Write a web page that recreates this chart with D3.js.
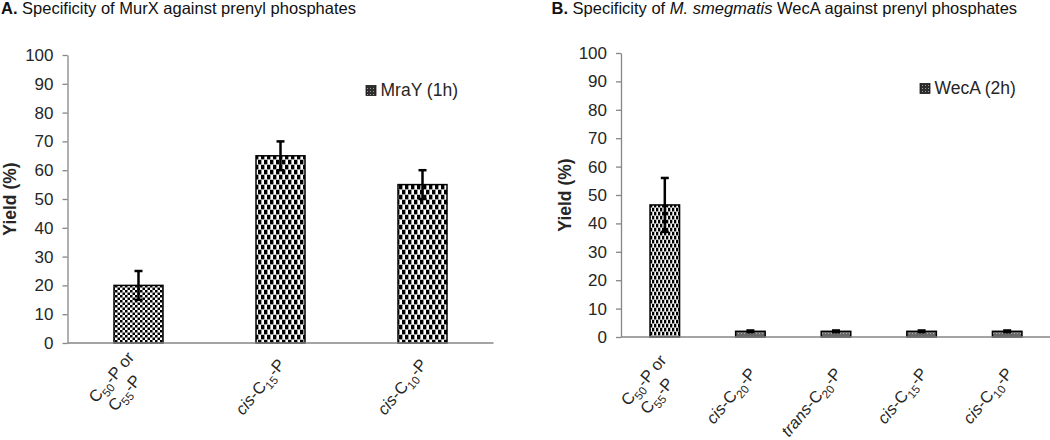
<!DOCTYPE html>
<html><head><meta charset="utf-8">
<script src="https://cdn.jsdelivr.net/npm/d3@7"></script>
<style>
body{margin:0;background:#fff}
svg{display:block}
text{font-family:"Liberation Sans",Arial,Helvetica,sans-serif}
</style>
</head><body>
<svg id="chart" width="1050" height="440"></svg>
<script>
// ---------- data ----------
// label segments: t = text, i = italic, s = subscript; one array per text line
const categoriesA = [
  [[{t:"C"},{t:"50",s:true},{t:"-P or"}],[{t:"C"},{t:"55",s:true},{t:"-P"}]],
  [[{t:"cis",i:true},{t:"-C"},{t:"15",s:true},{t:"-P"}]],
  [[{t:"cis",i:true},{t:"-C"},{t:"10",s:true},{t:"-P"}]]
];
const valuesA = [20, 65, 55];
const errorsA = [5, 5, 5];
const patternsA = ["checker", "brick", "brick"];

const categoriesB = [
  [[{t:"C"},{t:"50",s:true},{t:"-P or"}],[{t:"C"},{t:"55",s:true},{t:"-P"}]],
  [[{t:"cis",i:true},{t:"-C"},{t:"20",s:true},{t:"-P"}]],
  [[{t:"trans",i:true},{t:"-C"},{t:"20",s:true},{t:"-P"}]],
  [[{t:"cis",i:true},{t:"-C"},{t:"15",s:true},{t:"-P"}]],
  [[{t:"cis",i:true},{t:"-C"},{t:"10",s:true},{t:"-P"}]]
];
const valuesB = [46.5, 2, 2, 2, 2];
const errorsB = [9.5, 0.3, 0.3, 0.3, 0.3];
const patternsB = ["brickFine", "grayDots", "grayDots", "grayDots", "grayDots"];

const yTicks = [0, 10, 20, 30, 40, 50, 60, 70, 80, 90, 100];
const legendA = "MraY (1h)";
const legendB = "WecA (2h)";

// ---------- svg & patterns ----------
const svg = d3.select("#chart");
const defs = svg.append("defs");

function pat(id, w, h, bg, rects) {
  const p = defs.append("pattern").attr("id", id).attr("patternUnits", "userSpaceOnUse")
    .attr("width", w).attr("height", h);
  p.append("rect").attr("width", w).attr("height", h).attr("fill", bg);
  rects.forEach(r => p.append("rect").attr("x", r[0]).attr("y", r[1]).attr("width", r[2]).attr("height", r[3]).attr("fill", r[4]));
}
pat("checker", 5, 5, "#fff", [[0,0,2.5,2.5,"#000"],[2.5,2.5,2.5,2.5,"#000"]]);
pat("brick", 6, 10, "#fff", [
  [0,0,3.4,4.4,"#000"],[3,5,3,4.4,"#000"],[0,5,0.4,4.4,"#000"],
  [0,4.4,6,0.6,"#999"],[0,9.4,6,0.6,"#999"]]);
pat("brickFine", 4, 8, "#fff", [
  [0,0,2.3,3.5,"#000"],[2,4,2,3.5,"#000"],[0,4,0.3,3.5,"#000"],
  [0,3.5,4,0.5,"#999"],[0,7.5,4,0.5,"#999"]]);
pat("grayDots", 3, 3, "#6a6a6a", [[0,0,1,1,"#b0b0b0"]]);
pat("legendDots", 3, 3, "#2e2e2e", [[1,1,1,1,"#9a9a9a"]]);

const axisColor = "#868686";
const textColor = "#262626";
const labelAngle = -50;

function addSegments(textSel, segs, fontSize) {
  let sub = false;
  segs.forEach(sg => {
    const ts = textSel.append("tspan").text(sg.t);
    if (sg.i) ts.attr("font-style", "italic");
    if (sg.s) {
      ts.attr("font-size", fontSize * 0.7).attr("dy", fontSize * 0.28);
      sub = true;
    } else if (sub) {
      ts.attr("dy", -fontSize * 0.28);
      sub = false;
    }
  });
}

function drawPanel(cfg) {
  const g = svg.append("g");
  const x = d3.scaleBand().domain(d3.range(cfg.values.length))
    .range([cfg.x0, cfg.x1]).paddingInner(0.655).paddingOuter(0.3275);
  const y = d3.scaleLinear().domain([0, 100]).range([cfg.yBottom, cfg.yTop]);

  // title
  const t = g.append("text").attr("x", cfg.titleX).attr("y", 14)
    .attr("font-size", 16.5).attr("fill", "#111");
  t.append("tspan").attr("font-weight", "bold").text(cfg.letter);
  cfg.title.forEach(s => {
    const ts = t.append("tspan").text(s.t);
    if (s.i) ts.attr("font-style", "italic");
  });

  // y axis
  const ya = g.append("g").attr("transform", `translate(${cfg.axisX},0)`)
    .call(d3.axisLeft(y).tickValues(yTicks).tickSize(5).tickSizeOuter(0).tickPadding(9));
  ya.select(".domain").attr("stroke", axisColor).attr("stroke-width", 1.3);
  ya.selectAll(".tick line").attr("stroke", axisColor).attr("stroke-width", 1.3);
  ya.selectAll(".tick text").attr("font-size", 17).attr("fill", textColor)
    .attr("font-family", '"Liberation Sans",Arial,sans-serif');

  // y title
  g.append("text").attr("transform", `translate(${cfg.yTitleX},${(cfg.yTop + cfg.yBottom) / 2}) rotate(-90)`)
    .attr("text-anchor", "middle").attr("dy", "0.35em")
    .attr("font-size", 17.5).attr("font-weight", "bold").attr("fill", textColor).text("Yield (%)");

  // bars
  g.selectAll("rect.bar").data(cfg.values).join("rect").attr("class", "bar")
    .attr("x", (d, i) => x(i)).attr("width", x.bandwidth())
    .attr("y", d => y(d)).attr("height", d => y(0) - y(d))
    .attr("fill", (d, i) => `url(#${cfg.patterns[i]})`)
    .attr("stroke", "#000").attr("stroke-width", 1.5);

  // x axis line
  g.append("line").attr("x1", cfg.axisX).attr("x2", cfg.x1)
    .attr("y1", y(0)).attr("y2", y(0)).attr("stroke", axisColor).attr("stroke-width", 1.5);

  // error bars
  const cap = 4;
  cfg.values.forEach((v, i) => {
    const cx = x(i) + x.bandwidth() / 2;
    const e = cfg.errors[i];
    const eg = g.append("g").attr("stroke", "#000").attr("stroke-width", 2.5);
    eg.append("line").attr("x1", cx).attr("x2", cx).attr("y1", y(v + e)).attr("y2", y(v - e));
    eg.append("line").attr("x1", cx - cap).attr("x2", cx + cap).attr("y1", y(v + e)).attr("y2", y(v + e));
    eg.append("line").attr("x1", cx - cap).attr("x2", cx + cap).attr("y1", y(v - e)).attr("y2", y(v - e));
  });

  // x labels
  const fs = 16.5;
  cfg.categories.forEach((lines, i) => {
    const cx = x(i) + x.bandwidth() / 2;
    lines.forEach((segs, li) => {
      const off = lines.length === 1 ? cfg.single : cfg.multi[li];
      const tx = g.append("text")
        .attr("transform", `translate(${cx + off[0]},${y(0) + off[1]}) rotate(${labelAngle})`)
        .attr("text-anchor", "end").attr("dy", "0.35em")
        .attr("font-size", fs).attr("fill", textColor);
      addSegments(tx, segs, fs);
    });
  });

  // legend
  g.append("rect").attr("x", cfg.legX).attr("y", cfg.legY - 9.5).attr("width", 10).attr("height", 10)
    .attr("fill", "url(#legendDots)").attr("stroke", "#1a1a1a").attr("stroke-width", 0.8);
  g.append("text").attr("x", cfg.legX + 14.5).attr("y", cfg.legY + 1)
    .attr("font-size", 17.5).attr("fill", textColor).text(cfg.legend);
}

drawPanel({
  letter: "A.", titleX: 1,
  title: [{t: " Specificity of MurX against prenyl phosphates"}],
  values: valuesA, errors: errorsA, categories: categoriesA, patterns: patternsA,
  axisX: 67.5, x0: 67.5, x1: 493.5, yTop: 55, yBottom: 343, yTitleX: 10,
  single: [1, 18], multi: [[-8, 11], [-1, 34]],
  legX: 366, legY: 95, legend: legendA
});

drawPanel({
  letter: "B.", titleX: 551.5,
  title: [{t: " Specificity of "}, {t: "M. smegmatis", i: true}, {t: " WecA against prenyl phosphates"}],
  values: valuesB, errors: errorsB, categories: categoriesB, patterns: patternsB,
  axisX: 621, x0: 622, x1: 1050, yTop: 53, yBottom: 337, yTitleX: 565,
  single: [2, 33], multi: [[-2, 20], [5, 43]],
  legX: 920, legY: 93, legend: legendB
});
</script>
</body></html>
